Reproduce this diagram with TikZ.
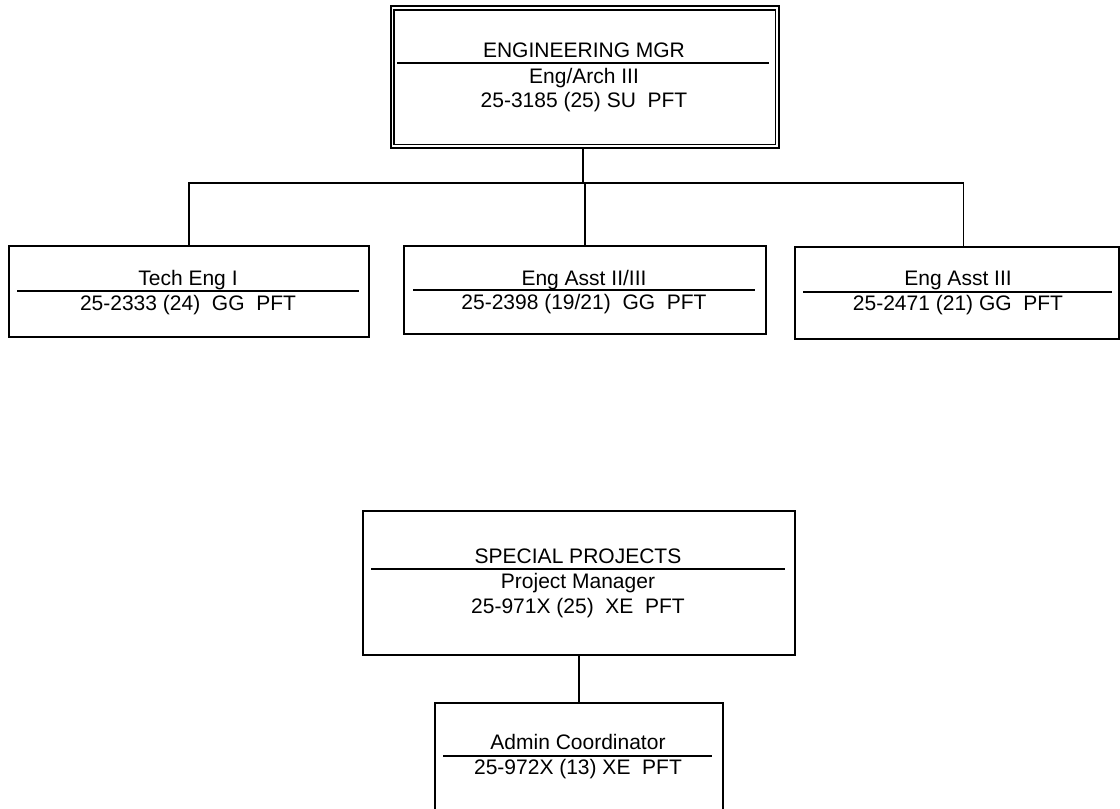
\documentclass[tikz,border=0pt]{standalone}
\usepackage{fontspec}
\setmainfont{Liberation Sans}
\begin{document}
\begin{tikzpicture}[x=1pt,y=-1pt,
  box/.style={draw=black,line width=1.6pt,rectangle,anchor=north west,inner sep=0pt},
  sep/.style={draw=black,line width=1.4pt},
  conn/.style={draw=black,line width=1.6pt},
  lbl/.style={anchor=base,inner sep=0pt,font=\fontsize{21}{24}\selectfont}]
\clip (0,0) rectangle (1120,809);
\fill[white] (0,0) rectangle (1120,809);
% top box (double border)
\node[box,minimum width=388pt,minimum height=142pt] (top) at (390,5) {};
\draw[line width=1.4pt] ([shift={(4,5)}]top.north west) rectangle ([shift={(-4,-4)}]top.south east);
\node[lbl] (t1) at (584,57) {ENGINEERING MGR};
\draw[sep] (397,63) -- (769,63);
\node[lbl] (t2) at (584,83) {Eng/Arch III};
\node[lbl] (t3) at (584,107) {25-3185 (25) SU~~PFT};
% child boxes
\node[box,minimum width=360pt,minimum height=91pt] (b1) at (8,245) {};
\node[lbl] (b1a) at (188,285) {Tech Eng I};
\draw[sep] (17,291) -- (359,291);
\node[lbl] (b1b) at (188,310) {25-2333 (24)~~GG~~PFT};
\node[box,minimum width=362pt,minimum height=88pt] (b2) at (403,245) {};
\node[lbl] (b2a) at (584,285) {Eng Asst II/III};
\draw[sep] (413,290) -- (755,290);
\node[lbl] (b2b) at (584,309) {25-2398 (19/21)~~GG~~PFT};
\node[box,minimum width=324pt,minimum height=92pt] (b3) at (794,246) {};
\node[lbl] (b3a) at (958,285) {Eng Asst III};
\draw[sep] (803,292) -- (1112,292);
\node[lbl] (b3b) at (958,310) {25-2471 (21) GG~~PFT};
% connectors
\coordinate (j) at (583,183);
\draw[conn] (top.south -| j) -- (j);
\draw[conn] (b1.north) |- (j);
\draw[conn] (j) -| ([xshift=6.5pt]b3.north);
\draw[conn] (b2.north) -- (b2.north |- j);
% special projects
\node[box,minimum width=432pt,minimum height=144pt] (sp) at (362,510) {};
\node[lbl] (s1) at (578,563) {SPECIAL PROJECTS};
\draw[sep] (371,569) -- (785,569);
\node[lbl] (s2) at (578,588) {Project Manager};
\node[lbl] (s3) at (578,613) {25-971X (25)~~XE~~PFT};
\node[box,minimum width=288pt,minimum height=120pt] (ad) at (434,702) {};
\node[lbl] (a1) at (578,749) {Admin Coordinator};
\draw[sep] (443,756) -- (712,756);
\node[lbl] (a2) at (578,774) {25-972X (13) XE~~PFT};
\draw[conn] (sp.south) -- (ad.north);
\end{tikzpicture}
\end{document}
